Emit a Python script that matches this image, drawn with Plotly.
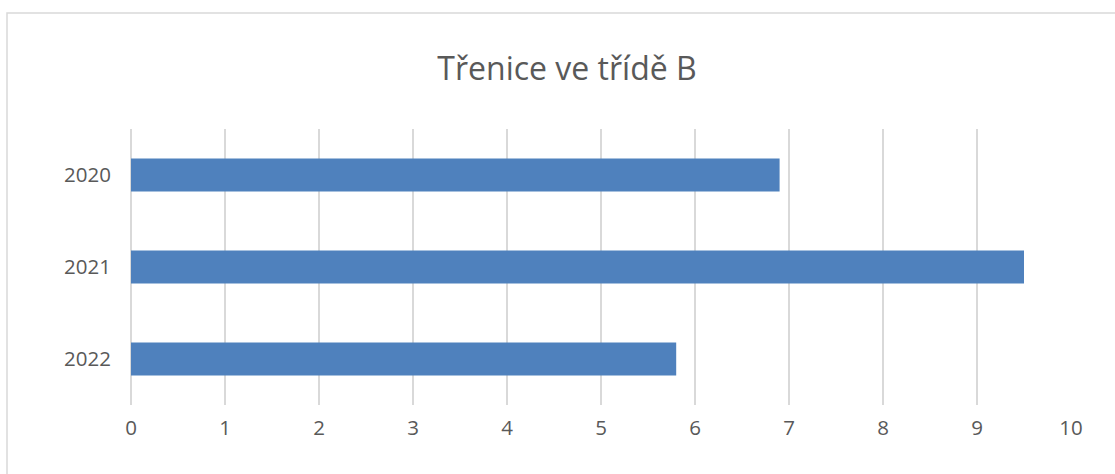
import plotly.graph_objects as go

categories = ["2020", "2021", "2022"]
values = [6.9, 9.5, 5.8]
x_ticks = list(range(0, 11))
title_text = "Třenice ve třídě B"

W, H = 1115, 474
L, R, T, B = 131, 44, 129, 69
pw, ph = W - L - R, H - T - B

def px_x(x):
    return (x - L) / pw

def px_y(y):
    return (H - B - y) / ph

fig = go.Figure(go.Bar(
    x=values, y=categories, orientation="h",
    marker=dict(color="#4F81BD", line=dict(width=0)),
    width=0.36,
))

fig.update_layout(
    width=W, height=H,
    margin=dict(l=L, r=R, t=T, b=B),
    paper_bgcolor="white", plot_bgcolor="white",
    font=dict(family="Open Sans", color="#595959"),
    showlegend=False,
    title=dict(text=title_text, x=567 / W, xref="container", xanchor="center",
               y=1 - 69 / H, yanchor="middle", yref="container",
               font=dict(size=32, color="#595959", family="Open Sans")),
    xaxis=dict(range=[0, 10], tickvals=x_ticks, showgrid=True, gridcolor="#D9D9D9",
               gridwidth=2, zeroline=False, showline=False, ticks="",
               tickfont=dict(size=20.5, color="#595959"), ticklabelstandoff=8),
    yaxis=dict(type="category", autorange="reversed", showgrid=False, zeroline=False,
               showline=False, ticks="", tickfont=dict(size=20.5, color="#595959"),
               ticklabelstandoff=19),
    shapes=[
        dict(type="line", xref="paper", yref="paper", x0=0, x1=0, y0=0, y1=1,
             line=dict(color="#D9D9D9", width=2), layer="below"),
        dict(type="rect", xref="paper", yref="paper",
             x0=px_x(7), x1=px_x(1125), y0=px_y(484), y1=px_y(13),
             line=dict(color="#D9D9D9", width=1.5)),
    ],
)

fig.write_html("out.html", config={"displayModeBar": False},
               post_script="document.body.style.margin='0';")
